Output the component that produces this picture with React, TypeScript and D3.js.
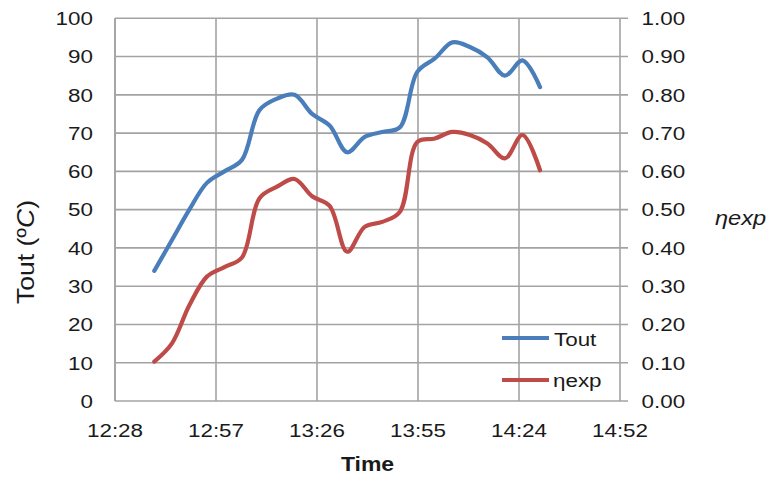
import React from 'react';
import * as d3 from 'd3';

// sample times (5 min steps)
const times = [
  '12:40', '12:45', '12:50', '12:55', '13:00', '13:05', '13:10', '13:15', '13:20', '13:25', '13:30', '13:35',
  '13:40', '13:45', '13:50', '13:55', '14:00', '14:05', '14:10', '14:15', '14:20', '14:25', '14:30',
];
const toutValues = [34, 42, 50, 57, 60, 63, 76, 79, 80, 75, 72, 65, 69, 70.3, 71.5, 86, 89.5, 93.7, 92.5, 89.8, 85, 89, 82];
const etaValues = [
  0.103, 0.15, 0.25, 0.325, 0.35, 0.375, 0.53, 0.56, 0.58, 0.535, 0.51, 0.39,
  0.455, 0.468, 0.494, 0.677, 0.686, 0.703, 0.695, 0.673, 0.634, 0.695, 0.603,
];
// excel time axis, in fractions of a day
const xTickDays = [0.52, 0.54, 0.56, 0.58, 0.6, 0.62];
const xTickLabels = ['12:28', '12:57', '13:26', '13:55', '14:24', '14:52'];
const leftTicks = [0, 10, 20, 30, 40, 50, 60, 70, 80, 90, 100];
const rightTicks = [0, 0.1, 0.2, 0.3, 0.4, 0.5, 0.6, 0.7, 0.8, 0.9, 1.0];

const W = 771;
const H = 477;
const left = 115, right = 620, top = 18.3, bottom = 401;
const SX = 1.18; // text in the picture is stretched sideways
const FONT = '"Liberation Sans", Arial, sans-serif';
const BLUE = '#4a7ebb';
const RED = '#be4b48';
const GRID = '#a3a3a3';

const toMin = (s: string) => {
  const [h, m] = s.split(':').map(Number);
  return h * 60 + m;
};

function SText({ x, y, children, anchor = 'start', size = 19, weight = 'normal', style = 'normal' }: any) {
  return (
    <text
      transform={`translate(${x},${y}) scale(${SX},1)`}
      textAnchor={anchor}
      fontSize={size}
      fontWeight={weight}
      fontStyle={style}
      fontFamily={FONT}
      fill="#1a1a1a"
    >
      {children}
    </text>
  );
}

export default function App() {
  const x = d3.scaleLinear().domain([0.52 * 1440, 0.62 * 1440]).range([left, right]);
  const yL = d3.scaleLinear().domain([0, 100]).range([bottom, top]);
  const yR = d3.scaleLinear().domain([0, 1]).range([bottom, top]);
  const fmt = d3.format('.2f');

  const lineL = d3
    .line<number>()
    .x((d, i) => x(toMin(times[i])))
    .y((d) => yL(d))
    .curve(d3.curveCatmullRom.alpha(0.5));
  const lineR = d3
    .line<number>()
    .x((d, i) => x(toMin(times[i])))
    .y((d) => yR(d))
    .curve(d3.curveCatmullRom.alpha(0.5));

  return (
    <svg width={W} height={H} style={{ position: 'absolute', left: 0, top: 0, background: '#fff' }}>
      {/* horizontal grid, extended past right axis as tick marks */}
      {leftTicks.map((t) => (
        <line key={'h' + t} x1={left} x2={right + 8} y1={yL(t)} y2={yL(t)} stroke={GRID} strokeWidth={1.6} />
      ))}
      {xTickDays.map((d) => (
        <line key={'v' + d} x1={x(d * 1440)} x2={x(d * 1440)} y1={top} y2={bottom} stroke={GRID} strokeWidth={1.6} />
      ))}
      <line x1={left} x2={left} y1={top} y2={bottom} stroke={GRID} strokeWidth={1.6} />

      <path d={lineL(toutValues) || ''} fill="none" stroke={BLUE} strokeWidth={4.2} strokeLinecap="round" strokeLinejoin="round" />
      <path d={lineR(etaValues) || ''} fill="none" stroke={RED} strokeWidth={4.2} strokeLinecap="round" strokeLinejoin="round" />

      {leftTicks.map((t) => (
        <SText key={'l' + t} x={93} y={yL(t) + 6.8} anchor="end">{t}</SText>
      ))}
      {rightTicks.map((t) => (
        <SText key={'r' + t} x={641.5} y={yR(t) + 6.8}>{fmt(t)}</SText>
      ))}
      {xTickDays.map((d, i) => (
        <SText key={'x' + d} x={x(d * 1440)} y={437} anchor="middle">{xTickLabels[i]}</SText>
      ))}

      <SText x={(left + right) / 2} y={470.5} anchor="middle" weight="bold" size={19.5}>Time</SText>
      <SText x={715} y={225} size={20} style="italic">ηexp</SText>

      <text
        transform={`translate(34,252) scale(${SX},1) rotate(-90)`}
        textAnchor="middle"
        fontSize={21}
        fontFamily={FONT}
        fill="#1a1a1a"
        textLength={104}
        lengthAdjust="spacingAndGlyphs"
      >
        Tout (º<tspan fontStyle="italic">C</tspan>)
      </text>

      {/* legend */}
      <line x1={502} x2={549} y1={338} y2={338} stroke={BLUE} strokeWidth={4.2} />
      <SText x={554} y={346}>Tout</SText>
      <line x1={502} x2={549} y1={380} y2={380} stroke={RED} strokeWidth={4.2} />
      <SText x={553} y={387}>ηexp</SText>
    </svg>
  );
}
